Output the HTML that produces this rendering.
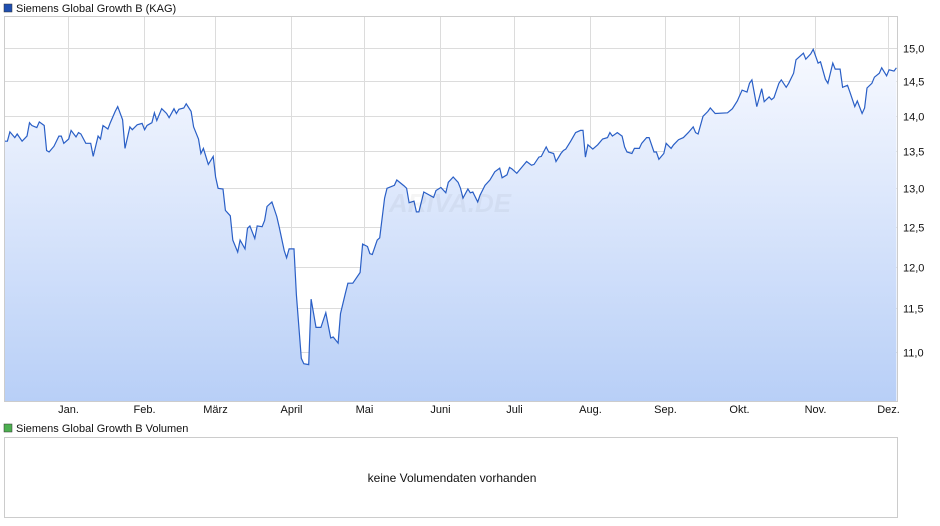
<!DOCTYPE html>
<html><head><meta charset="utf-8"><style>
body{margin:0;background:#fff;font-family:"Liberation Sans",sans-serif}
svg{display:block}
</style></head><body>
<svg width="940" height="526" viewBox="0 0 940 526" xmlns="http://www.w3.org/2000/svg">
<defs><linearGradient id="fillg" x1="0" y1="0" x2="0" y2="1"><stop offset="0" stop-color="#f7f9ff"/><stop offset="1" stop-color="#b8cff7"/></linearGradient></defs>
<rect x="4" y="4" width="8" height="8" fill="#1f4fb0" stroke="#333" stroke-width="0.5"/>
<text x="16" y="12" font-size="11" fill="#111">Siemens Global Growth B (KAG)</text>
<g id="grid"></g>
<path id="area" fill="url(#fillg)"/>
<path id="line" fill="none" stroke="#2a5fc6" stroke-width="1.2"/>
<text x="450" y="212" font-size="26" font-style="italic" font-weight="bold" fill="#000" fill-opacity="0.04" text-anchor="middle">ARIVA.DE</text>
<rect x="4.5" y="16.5" width="893" height="385" fill="none" stroke="#ccc"/>
<g id="axes"></g>
<rect x="4" y="424" width="8" height="8" fill="#4caf50" stroke="#333" stroke-width="0.5"/>
<text x="16" y="432" font-size="11" fill="#111">Siemens Global Growth B Volumen</text>
<rect x="4.5" y="437.5" width="893" height="80" fill="#fff" stroke="#ccc"/>
<text x="452" y="482" font-size="12" fill="#111" text-anchor="middle">keine Volumendaten vorhanden</text>
</svg>
<script>
const days=[0,1,2,4,5,7,9,10,11,13,14,16,17,18,20,22,23,24,26,27,29,30,31,33,35,36,38,39,40,42,43,45,46,48,49,51,52,54,56,57,58,60,61,62,64,66,67,69,70,71,73,74,76,77,79,80,81,83,85,86,87,89,90,92,93,95,96,98,99,100,102,103,105,106,107,109,111,112,114,115,116,118,119,121,122,124,125,127,129,131,133,134,136,137,139,140,142,145,146,148,149,150,152,153,155,156,159,160,163,164,165,167,168,169,171,175,176,178,180,181,183,185,186,187,189,190,191,193,194,196,198,200,202,203,205,206,207,209,211,213,215,216,218,219,221,222,224,225,227,228,229,231,233,235,236,237,238,240,242,244,246,247,248,250,252,253,254,256,257,259,260,262,263,265,266,267,269,270,272,273,275,277,279,281,282,283,285,287,288,290,295,297,299,301,303,304,305,307,309,310,312,313,314,316,317,319,320,322,323,326,327,329,330,332,333,335,336,338,339,341,342,344,345,347,348,350,351,352,354,355,357,358,360,361,363,364];
const prices=[13.64,13.64,13.77,13.69,13.74,13.64,13.71,13.90,13.86,13.83,13.91,13.86,13.51,13.49,13.57,13.71,13.71,13.61,13.67,13.79,13.70,13.76,13.74,13.61,13.61,13.43,13.71,13.67,13.86,13.81,13.90,14.06,14.13,13.94,13.54,13.84,13.80,13.87,13.89,13.80,13.86,13.90,14.04,13.93,14.10,14.03,13.97,14.10,14.03,14.09,14.11,14.17,14.06,13.84,13.67,13.47,13.54,13.32,13.43,13.15,13.00,12.99,12.71,12.64,12.33,12.18,12.33,12.22,12.48,12.51,12.35,12.51,12.50,12.58,12.76,12.82,12.63,12.49,12.20,12.11,12.22,12.22,11.66,10.93,10.87,10.86,11.61,11.28,11.28,11.45,11.16,11.17,11.10,11.44,11.68,11.80,11.80,11.93,12.28,12.25,12.16,12.15,12.33,12.36,12.87,13.00,13.04,13.11,13.03,13.00,12.81,12.83,12.69,12.69,12.95,12.88,12.97,13.01,12.94,13.08,13.15,13.08,13.00,12.87,12.99,12.94,12.95,12.82,12.91,13.04,13.11,13.22,13.27,13.14,13.18,13.28,13.26,13.20,13.28,13.36,13.31,13.32,13.42,13.43,13.56,13.49,13.47,13.36,13.47,13.51,13.53,13.64,13.76,13.79,13.79,13.42,13.59,13.53,13.59,13.67,13.69,13.76,13.71,13.76,13.71,13.56,13.49,13.47,13.54,13.54,13.61,13.69,13.69,13.49,13.49,13.39,13.47,13.61,13.54,13.59,13.66,13.69,13.76,13.84,13.76,13.74,13.99,14.06,14.11,14.03,14.04,14.10,14.21,14.37,14.34,14.47,14.52,14.13,14.39,14.20,14.27,14.23,14.26,14.47,14.52,14.41,14.47,14.62,14.82,14.92,14.83,14.91,14.98,14.77,14.79,14.53,14.47,14.77,14.68,14.68,14.41,14.44,14.34,14.13,14.21,14.03,14.11,14.40,14.47,14.56,14.62,14.70,14.58,14.67,14.65,14.70];
const monthLabels=["Jan.","Feb.","März","April","Mai","Juni","Juli","Aug.","Sep.","Okt.","Nov.","Dez."];
const monthDays=[25.7,56.7,85.7,116.7,146.7,177.7,207.7,238.7,269.7,299.7,330.7,360.7];
const yTicks=[11.0,11.5,12.0,12.5,13.0,13.5,14.0,14.5,15.0];
const yTickLabels=["11,0","11,5","12,0","12,5","13,0","13,5","14,0","14,5","15,0"];

const NS="http://www.w3.org/2000/svg";
function xs(d){return 5+d*2.449;}
function ys(v){return 48+(Math.log10(15)-Math.log10(v))*2257;}
const grid=document.getElementById('grid'), axes=document.getElementById('axes');
function mk(tag,attrs,parent){const e=document.createElementNS(NS,tag);for(const k in attrs)e.setAttribute(k,attrs[k]);parent.appendChild(e);return e;}
yTicks.forEach((v,i)=>{
  const y=Math.round(ys(v))+0.5;
  const l=mk('line',{x1:4,x2:898,y1:y,y2:y,stroke:'#dcdcdc'},grid);
  
  
  const t=mk('text',{x:903,y:y+4,'font-size':11,fill:'#111'},axes);
  t.textContent=yTickLabels[i];
  
  
});
monthDays.forEach((d,i)=>{
  const x=Math.round(xs(d))+0.5;
  const l=mk('line',{x1:x,x2:x,y1:16,y2:401,stroke:'#dcdcdc'},grid);
  
  
  const t=mk('text',{x:x,y:413,'font-size':11,fill:'#111','text-anchor':'middle'},axes);
  t.textContent=monthLabels[i];
  
  
});
let p='';
days.forEach((d,i)=>{p+=(i?'L':'M')+xs(d).toFixed(1)+','+ys(prices[i]).toFixed(1);});
document.getElementById('line').setAttribute('d',p);
document.getElementById('area').setAttribute('d',p+'L'+xs(days[days.length-1]).toFixed(1)+',401L'+xs(days[0]).toFixed(1)+',401Z');
</script>
</body></html>
